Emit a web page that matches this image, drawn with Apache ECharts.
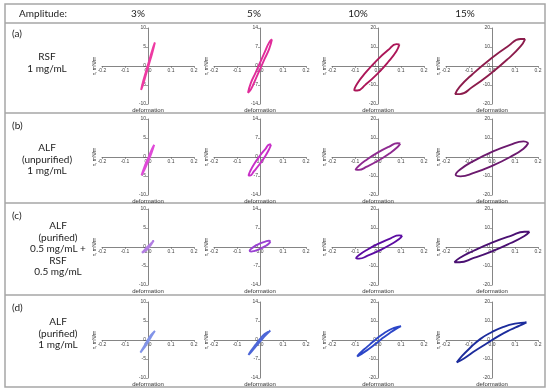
<!DOCTYPE html>
<html>
<head>
<meta charset="utf-8">
<title>Amplitude loops</title>
<script src="https://cdn.jsdelivr.net/npm/echarts@6/dist/echarts.min.js"></script>
<style>
  html, body { margin: 0; padding: 0; background: #fff; }
  #chart { width: 550px; height: 391px; }
</style>
</head>
<body>
<div id="chart"></div>
<script>
// column headers + axis ranges per column
var amplitudes = ['3%', '5%', '10%', '15%'];
var yLimits = [10, 14, 20, 20];
var ySteps = [5, 7, 10, 10];
var xLimit = 0.2, xStep = 0.1;

// row captions
var rowTags = ['(a)', '(b)', '(c)', '(d)'];
var rowNames = [
    ['RSF', '1 mg/mL'],
    ['ALF', '(unpurified)', '1 mg/mL'],
    ['ALF', '(purified)', '0.5 mg/mL +', 'RSF', '0.5 mg/mL'],
    ['ALF', '(purified)', '1 mg/mL']
];

// loops: [deformation, stress]
var loopA3 = [[0.030,6.2],[0.018,3.3],[0.005,0.6],[-0.010,-2.5],[-0.022,-5.0],[-0.030,-6.3],[-0.022,-4.2],[-0.010,-1.7],[0.005,1.4],[0.018,4.1],[0.030,6.2]];
var loopA5 = [[0.052,9.8],[0.040,6.3],[0.020,2.6],[0,-1.2],[-0.020,-5.0],[-0.040,-8.7],[-0.052,-9.8],[-0.040,-6.3],[-0.020,-2.6],[0,1.2],[0.020,5.0],[0.040,8.7],[0.052,9.8]];
var loopA10 = [[0.093,11.3],[0.080,7.8],[0.044,2.1],[-0.005,-4.4],[-0.054,-9.8],[-0.090,-12.9],[-0.103,-12.7],[-0.090,-9.2],[-0.054,-3.5],[-0.005,3.0],[0.044,8.4],[0.080,11.5],[0.093,11.3]];
var loopA15 = [[0.144,14.2],[0.124,10.3],[0.068,3.6],[-0.008,-4.2],[-0.084,-10.9],[-0.140,-14.8],[-0.160,-14.8],[-0.140,-10.9],[-0.084,-4.2],[-0.008,3.6],[0.068,10.3],[0.124,14.2],[0.144,14.2]];

var loopB3 = [[0.027,3.2],[0.015,1.0],[0,-1.2],[-0.015,-3.3],[-0.028,-4.8],[-0.015,-2.5],[0,-0.4],[0.015,1.8],[0.027,3.2]];
var loopB5 = [[0.048,4.6],[0.041,3.1],[0.024,0.5],[-0.001,-2.6],[-0.026,-5.2],[-0.043,-6.8],[-0.050,-6.8],[-0.043,-5.3],[-0.026,-2.7],[-0.001,0.4],[0.024,3.0],[0.041,4.6],[0.048,4.6]];
var loopB10 = [[0.097,7.1],[0.084,5.1],[0.049,1.8],[0,-2.0],[-0.049,-5.1],[-0.084,-6.8],[-0.097,-6.7],[-0.084,-4.7],[-0.049,-1.4],[0,2.4],[0.049,5.5],[0.084,7.2],[0.097,7.1]];
var loopB15 = [[0.158,7.4],[0.137,4.4],[0.079,0],[0,-4.7],[-0.079,-8.4],[-0.137,-10.2],[-0.158,-9.4],[-0.137,-6.4],[-0.079,-2.0],[0,2.7],[0.079,6.4],[0.137,8.2],[0.158,7.4]];

var loopC3 = [[0.025,1.7],[0.012,0.5],[0,-0.4],[-0.013,-1.1],[-0.026,-1.5],[-0.013,-0.6],[0,0.2],[0.012,0.9],[0.025,1.7]];
var loopC5 = [[0.045,2.0],[0.039,1.3],[0.023,0.3],[0,-0.7],[-0.023,-1.4],[-0.039,-1.7],[-0.045,-1.4],[-0.039,-0.7],[-0.023,0.3],[0,1.3],[0.023,2.0],[0.039,2.3],[0.045,2.0]];
var loopC10 = [[0.105,5.9],[0.092,4.2],[0.055,1.3],[0.005,-1.9],[-0.045,-4.6],[-0.082,-6.1],[-0.095,-5.9],[-0.082,-4.2],[-0.045,-1.3],[0.005,1.9],[0.055,4.6],[0.092,6.1],[0.105,5.9]];
var loopC15 = [[0.163,8.0],[0.141,5.8],[0.082,2.1],[0,-2.3],[-0.082,-5.9],[-0.141,-8.0],[-0.163,-8.0],[-0.141,-5.8],[-0.082,-2.1],[0,2.3],[0.082,5.9],[0.141,8.0],[0.163,8.0]];

var loopD3 = [[0.030,2.4],[0.015,1.0],[0,-0.6],[-0.017,-2.1],[-0.033,-3.3],[-0.020,-2.0],[-0.005,-0.4],[0.012,1.2],[0.030,2.4]];
var loopD5 = [[0.045,3.5],[0.025,1.8],[0.005,-0.1],[-0.015,-2.1],[-0.035,-4.1],[-0.050,-5.5],[-0.040,-4.1],[-0.020,-1.8],[0,0.4],[0.020,2.2],[0.045,3.5]];
var loopD10 = [[0.100,7.3],[0.075,5.6],[0.050,3.6],[0.025,1.4],[0,-1.0],[-0.025,-3.4],[-0.050,-5.6],[-0.075,-7.6],[-0.090,-8.7],[-0.082,-7.3],[-0.060,-4.9],[-0.035,-2.3],[-0.010,0.3],[0.015,2.6],[0.040,4.6],[0.070,6.4],[0.100,7.3]];
var loopD15 = [[0.150,9.3],[0.120,7.6],[0.080,5.4],[0.030,2.2],[-0.020,-1.6],[-0.070,-5.4],[-0.120,-9.6],[-0.153,-11.8],[-0.130,-8.4],[-0.100,-4.7],[-0.050,0.6],[0,4.2],[0.050,6.9],[0.100,8.6],[0.150,9.3]];

var loops = [
    [loopA3, loopA5, loopA10, loopA15],
    [loopB3, loopB5, loopB10, loopB15],
    [loopC3, loopC5, loopC10, loopC15],
    [loopD3, loopD5, loopD10, loopD15]
];

var colors = [
    ['#ee3aa2', '#e02c9a', '#ac1658', '#8c1c4c'],
    ['#e04ad8', '#c82ec8', '#8e2a90', '#6c1a6e'],
    ['#b27ee2', '#9a42d2', '#5c0ca2', '#4a1072'],
    ['#8294e8', '#4c66d8', '#2c46c8', '#1c2c9c']
];

// layout (pixels)
var colX = [148, 260, 378, 492];
var rowY = [66, 157, 247, 340];
var halfW = 46, halfH = 38;
var headerX = [138, 254, 358, 465];
var tagY = [34, 126, 216, 308];
var nameX = [47, 47, 58, 58];
var nameY = [57, 148, 226, 322];

var myChart = echarts.init(document.getElementById('chart'));

var grids = [], xAxes = [], yAxes = [], series = [];
var axisColor = '#666';
var labelColor = '#444';

for (var r = 0; r < 4; r++) {
    for (var c = 0; c < 4; c++) {
        var i = r * 4 + c;
        grids.push({
            left: colX[c] - halfW, top: rowY[r] - halfH,
            width: halfW * 2, height: halfH * 2
        });
        // axes pulled into the middle of the grid with offset (cross at 0,0)
        xAxes.push({
            gridIndex: i, type: 'value', position: 'bottom', offset: -halfH,
            min: -xLimit, max: xLimit, interval: xStep,
            axisLine: { onZero: false, lineStyle: { color: axisColor, width: 0.8 } },
            axisTick: { length: 2, lineStyle: { color: axisColor, width: 0.6 } },
            axisLabel: {
                fontSize: 5, margin: 2, color: labelColor,
                formatter: function (v) { return Math.abs(v) < 1e-9 ? '0.0' : v.toFixed(1); }
            },
            splitLine: { show: false },
            name: 'deformation', nameLocation: 'middle', nameGap: 41,
            nameTextStyle: { fontSize: 6, color: '#333' }
        });
        yAxes.push({
            gridIndex: i, type: 'value', position: 'left', offset: -halfW,
            min: -yLimits[c], max: yLimits[c], interval: ySteps[c],
            axisLine: { onZero: false, lineStyle: { color: axisColor, width: 0.8 } },
            axisTick: { length: 2, lineStyle: { color: axisColor, width: 0.6 } },
            axisLabel: { fontSize: 5, margin: 2, color: labelColor },
            splitLine: { show: false },
            name: 'τ, mN/m', nameLocation: 'middle', nameRotate: 90, nameGap: 51,
            nameTextStyle: { fontSize: 5, color: '#333' }
        });
        series.push({
            type: 'line',
            xAxisIndex: i, yAxisIndex: i,
            data: loops[r][c],
            smooth: 0.5,
            showSymbol: false,
            lineStyle: { color: colors[r][c], width: 1.9 },
            animation: false
        });
    }
}

// frame, separators and captions
var graphics = [];
var frameColor = '#a6a6a6';
graphics.push({ type: 'rect', shape: { x: 5, y: 4, width: 540, height: 383 },
    style: { fill: 'none', stroke: frameColor, lineWidth: 1.5 } });
[23, 113, 203, 295].forEach(function (y) {
    graphics.push({ type: 'line', shape: { x1: 5, y1: y, x2: 545, y2: y },
        style: { stroke: frameColor, lineWidth: 1.5 } });
});
var font = '10px Lato, "Open Sans", sans-serif';
graphics.push({ type: 'text', style: { text: 'Amplitude:', x: 43, y: 14, font: font,
    fill: '#222', textAlign: 'center', textVerticalAlign: 'middle' } });
amplitudes.forEach(function (a, c) {
    graphics.push({ type: 'text', style: { text: a, x: headerX[c], y: 14, font: font,
        fill: '#222', textAlign: 'center', textVerticalAlign: 'middle' } });
});
rowTags.forEach(function (t, r) {
    graphics.push({ type: 'text', style: { text: t, x: 12, y: tagY[r], font: font,
        fill: '#222', textAlign: 'left', textVerticalAlign: 'middle' } });
    rowNames[r].forEach(function (line, k) {
        graphics.push({ type: 'text', style: { text: line, x: nameX[r], y: nameY[r] + k * 11.5,
            font: font, fill: '#222', textAlign: 'center', textVerticalAlign: 'middle' } });
    });
});

myChart.setOption({
    animation: false,
    grid: grids,
    xAxis: xAxes,
    yAxis: yAxes,
    series: series,
    graphic: graphics
});
</script>
</body>
</html>
